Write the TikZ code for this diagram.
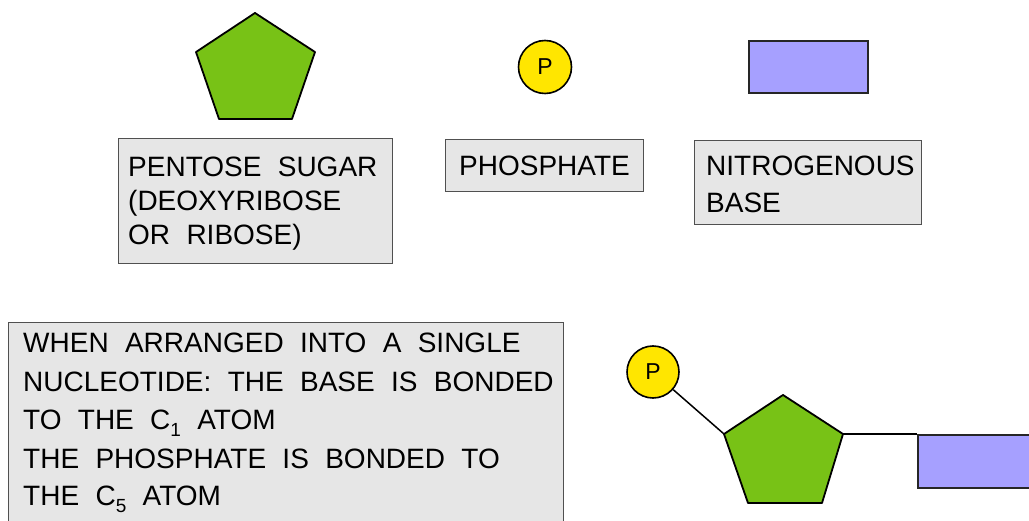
\documentclass[tikz,border=0pt]{standalone}
\usepackage{fontspec}
\setmainfont[WordSpace=2.1]{Liberation Sans}
\definecolor{sugargreen}{RGB}{120,194,22}
\definecolor{phosyellow}{RGB}{255,230,0}
\definecolor{basepurple}{RGB}{166,160,255}
\definecolor{boxgray}{RGB}{230,230,230}
\definecolor{boxline}{RGB}{80,80,80}
\newcommand{\subnum}[1]{\raisebox{-7pt}{\fontsize{19}{19}\selectfont #1}}
\begin{document}
\begin{tikzpicture}[x=1pt,y=-1pt,
  labelbox/.style={draw=boxline,fill=boxgray,line width=1.3pt,rectangle,inner sep=0pt,anchor=north west},
  txt/.style={inner sep=0pt,anchor=base west,font=\fontsize{28}{34}\selectfont},
  sugarshape/.style={draw=black,fill=sugargreen,line width=1.8pt,line join=round},
  pcircle/.style={circle,draw=black,fill=phosyellow,line width=1.6pt,inner sep=0pt,font=\fontsize{23}{23}\selectfont},
  baseshape/.style={rectangle,draw=black!85,fill=basepurple,line width=1.6pt,inner sep=0pt,anchor=north west},
  bond/.style={draw=black,line width=1.5pt}]
\useasboundingbox (0,0) rectangle (1029,521);
\fill[white] (0,0) rectangle (1029,521);

% ---- top row: components ----
\coordinate (s1t) at (255,13);
\coordinate (s1r) at (315,52);
\coordinate (s1br) at (292,119);
\coordinate (s1bl) at (219,119);
\coordinate (s1l) at (196,52);
\path[sugarshape] (s1t) -- (s1r) -- (s1br) -- (s1bl) -- (s1l) -- cycle;

\node[pcircle,minimum size=53pt] (p1) at (545,67) {P};

\node[baseshape,minimum width=119pt,minimum height=52pt] (base1) at (748,40) {};

% ---- labels ----
\node[labelbox,minimum width=274pt,minimum height=125pt] (sugarbox) at (118,138) {};
\node[txt] (sugar1) at (128,177) {PENTOSE SUGAR};
\node[txt] (sugar2) at (128,211) {(DEOXYRIBOSE};
\node[txt] (sugar3) at (128,245) {OR RIBOSE)};

\node[labelbox,minimum width=198pt,minimum height=52pt] (phosbox) at (445,139) {};
\node[txt] (phos1) at (459,176) {PHOSPHATE};

\node[labelbox,minimum width=227pt,minimum height=84pt] (basebox) at (694,140) {};
\node[txt] (base1a) at (706,176) {NITROGENOUS};
\node[txt] (base1b) at (706,213) {BASE};

% ---- explanation box ----
\node[labelbox,minimum width=555pt,minimum height=230pt] (infobox) at (8,322) {};
\node[txt] (info1) at (23,353) {WHEN ARRANGED INTO A SINGLE};
\node[txt] (info2) at (23,392) {NUCLEOTIDE: THE BASE IS BONDED};
\node[txt] (info3) at (23,430) {TO THE C\subnum{1} ATOM};
\node[txt] (info4) at (23,468) {THE PHOSPHATE IS BONDED TO};
\node[txt] (info5) at (23,505) {THE C\subnum{5} ATOM};

% ---- assembled nucleotide ----
\coordinate (s2t) at (783,395);
\coordinate (s2r) at (843,434);
\coordinate (s2br) at (822,503);
\coordinate (s2bl) at (748,503);
\coordinate (s2l) at (724,434);
\path[sugarshape] (s2t) -- (s2r) -- (s2br) -- (s2bl) -- (s2l) -- cycle;

\node[pcircle,minimum size=52pt] (p2) at (653,372) {P};
\node[baseshape,minimum width=140pt,minimum height=53pt] (base2) at (917,434) {};

\draw[bond] (p2) -- (s2l);
\draw[bond] (s2r) -- (base2.north west);
\end{tikzpicture}
\end{document}
